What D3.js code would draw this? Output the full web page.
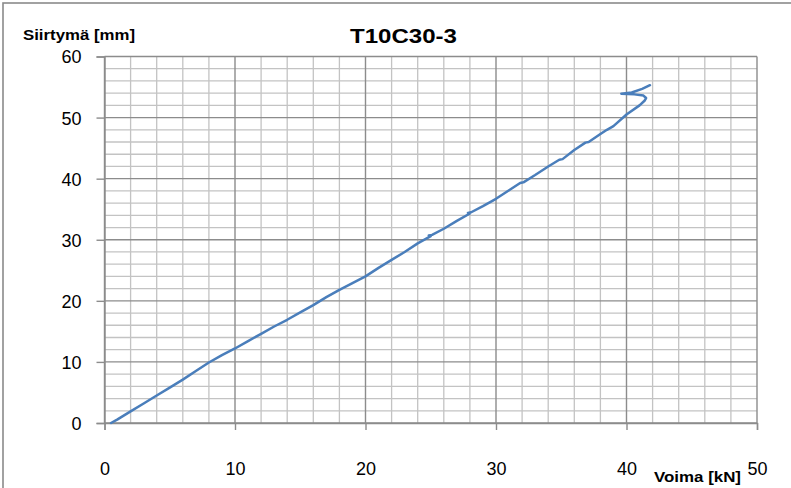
<!DOCTYPE html>
<html>
<head>
<meta charset="utf-8">
<script src="https://cdn.jsdelivr.net/npm/d3@7/dist/d3.min.js"></script>
<style>
  html, body { margin: 0; padding: 0; background: #fff; }
  svg { display: block; }
  text { font-family: "Liberation Sans", Arial, sans-serif; fill: #000; }
</style>
</head>
<body>
<svg id="chart" width="791" height="488"></svg>
<script>
// Force (kN) and displacement (mm) readings for specimen T10C30-3
const force = [0.5, 1, 2, 3, 4, 5, 6, 7, 8, 9, 10, 11, 12, 13, 14, 15, 16, 17, 18, 19,
  20, 21, 22, 23, 24, 25, 24.85, 25.1, 26, 27, 28, 27.85, 28.1, 29, 30, 31, 31.85, 32.1,
  33, 34, 34.85, 35.1, 36, 36.85, 37.1, 38, 38.5, 39, 40, 41, 41.4,
  41.5, 41.3, 40.6, 39.6, 40.4, 41.2, 41.8];
const displacement = [0, 0.6, 1.9, 3.2, 4.5, 5.8, 7.1, 8.5, 9.9, 11.1, 12.2, 13.4, 14.6, 15.8, 16.9, 18.1, 19.3, 20.6, 21.8, 22.9,
  24.0, 25.4, 26.7, 28.0, 29.4, 30.6, 30.7, 30.8, 31.8, 33.1, 34.3, 34.4, 34.5, 35.5, 36.7, 38.1, 39.3, 39.4,
  40.6, 42.0, 43.1, 43.2, 44.7, 45.9, 46.0, 47.3, 48.0, 48.6, 50.5, 52.0, 52.8,
  53.2, 53.6, 53.8, 53.9, 54.1, 54.7, 55.3];

const xTicks = [0, 10, 20, 30, 40, 50];
const yTicks = [0, 10, 20, 30, 40, 50, 60];
const minorStep = 2;

const title = "T10C30-3";
const xTitle = "Voima [kN]";
const yTitle = "Siirtymä [mm]";

const svg = d3.select("#chart");

// outer frame
svg.append("rect")
  .attr("x", 3).attr("y", 3).attr("width", 820).attr("height", 520)
  .attr("fill", "none").attr("stroke", "#8a8a8a").attr("stroke-width", 1.6);

const x = d3.scaleLinear().domain([0, 50]).range([104.5, 757]);
const y = d3.scaleLinear().domain([0, 60]).range([423, 56.5]);

// minor grid
const minorX = d3.range(0, 50 + 0.001, minorStep).filter(v => v % 10 !== 0);
const minorY = d3.range(0, 60 + 0.001, minorStep).filter(v => v % 10 !== 0);
const grid = svg.append("g");
grid.selectAll("line.mx").data(minorX).join("line")
  .attr("x1", d => x(d)).attr("x2", d => x(d))
  .attr("y1", y(0)).attr("y2", y(60))
  .attr("stroke", "#c3c3c3").attr("stroke-width", 1.3);
grid.selectAll("line.my").data(minorY).join("line")
  .attr("x1", x(0)).attr("x2", x(50))
  .attr("y1", d => y(d)).attr("y2", d => y(d))
  .attr("stroke", "#c3c3c3").attr("stroke-width", 1.3);

// major grid
grid.selectAll("line.MX").data(xTicks).join("line")
  .attr("x1", d => x(d)).attr("x2", d => x(d))
  .attr("y1", y(0)).attr("y2", y(60))
  .attr("stroke", "#8c8c8c").attr("stroke-width", 1.4);
grid.selectAll("line.MY").data(yTicks).join("line")
  .attr("x1", x(0)).attr("x2", x(50))
  .attr("y1", d => y(d)).attr("y2", d => y(d))
  .attr("stroke", "#8c8c8c").attr("stroke-width", 1.4);

// axes
const xAxis = svg.append("g")
  .attr("transform", `translate(0,${y(0)})`)
  .call(d3.axisBottom(x).tickValues(xTicks).tickSize(7).tickPadding(32).tickFormat(d3.format("d")));
const yAxis = svg.append("g")
  .attr("transform", `translate(${x(0)},0)`)
  .call(d3.axisLeft(y).tickValues(yTicks).tickSize(8).tickPadding(15).tickFormat(d3.format("d")));

[xAxis, yAxis].forEach(g => {
  g.select(".domain").attr("stroke", "#8c8c8c").attr("stroke-width", 1.4);
  g.selectAll(".tick line").attr("stroke", "#8c8c8c").attr("stroke-width", 1.4);
  g.selectAll(".tick text")
    .style("font-family", "'Liberation Sans', Arial, sans-serif")
    .attr("font-size", 18).attr("fill", "#000");
});
yAxis.selectAll(".tick text").attr("dy", "0.36em");

// series
const pts = force.map((f, i) => [f, displacement[i]]);
svg.append("path")
  .datum(pts)
  .attr("fill", "none")
  .attr("stroke", "#4a7ebb")
  .attr("stroke-width", 2.5)
  .attr("stroke-linejoin", "round")
  .attr("stroke-linecap", "round")
  .attr("d", d3.line().x(d => x(d[0])).y(d => y(d[1])));

// titles
svg.append("text")
  .attr("x", 403.5).attr("y", 43)
  .attr("text-anchor", "middle")
  .attr("font-weight", "bold").attr("font-size", 21)
  .attr("textLength", 107).attr("lengthAdjust", "spacingAndGlyphs")
  .text(title);

svg.append("text")
  .attr("x", 23).attr("y", 40)
  .attr("font-weight", "bold").attr("font-size", 14)
  .attr("textLength", 112).attr("lengthAdjust", "spacingAndGlyphs")
  .text(yTitle);

svg.append("text")
  .attr("x", 654).attr("y", 481.5)
  .attr("font-weight", "bold").attr("font-size", 14)
  .attr("textLength", 87).attr("lengthAdjust", "spacingAndGlyphs")
  .text(xTitle);
</script>
</body>
</html>
